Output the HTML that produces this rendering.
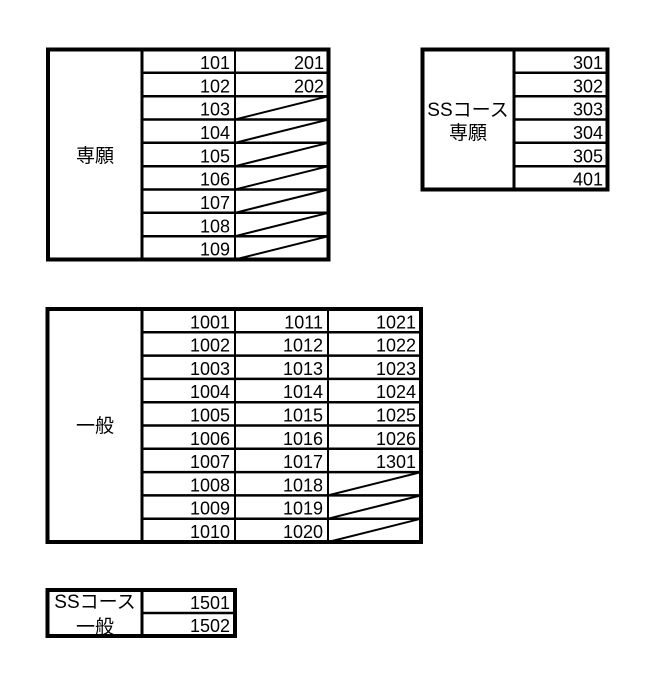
<!DOCTYPE html>
<html><head><meta charset="utf-8"><style>
html,body{margin:0;padding:0;background:#fff;}
svg text{font-family:"Liberation Sans","Noto Sans CJK JP",sans-serif;fill:#000;}
.n{font-size:18px;text-anchor:end;}
.h{font-size:19px;text-anchor:middle;}
</style></head><body>
<svg width="654" height="689" viewBox="0 0 654 689" xmlns="http://www.w3.org/2000/svg">
<g stroke="#000" fill="none">
<g stroke-width="2.5">
<line x1="142" y1="72.8" x2="328.5" y2="72.8"/>
<line x1="142" y1="96.2" x2="328.5" y2="96.2"/>
<line x1="142" y1="119.5" x2="328.5" y2="119.5"/>
<line x1="142" y1="142.8" x2="328.5" y2="142.8"/>
<line x1="142" y1="166.2" x2="328.5" y2="166.2"/>
<line x1="142" y1="189.5" x2="328.5" y2="189.5"/>
<line x1="142" y1="212.8" x2="328.5" y2="212.8"/>
<line x1="142" y1="236.2" x2="328.5" y2="236.2"/>
<line x1="142" y1="49.5" x2="142" y2="259.5" stroke-width="3"/>
<line x1="235" y1="49.5" x2="235" y2="259.5" stroke-width="2"/>
</g>
<g stroke-width="2">
<line x1="235" y1="119.5" x2="328.5" y2="96.2"/>
<line x1="235" y1="142.8" x2="328.5" y2="119.5"/>
<line x1="235" y1="166.2" x2="328.5" y2="142.8"/>
<line x1="235" y1="189.5" x2="328.5" y2="166.2"/>
<line x1="235" y1="212.8" x2="328.5" y2="189.5"/>
<line x1="235" y1="236.2" x2="328.5" y2="212.8"/>
<line x1="235" y1="259.5" x2="328.5" y2="236.2"/>
</g>
<rect x="48" y="49.5" width="280.5" height="210" stroke-width="4"/>

<g stroke-width="2.5">
<line x1="514" y1="72.8" x2="607.5" y2="72.8"/>
<line x1="514" y1="96.2" x2="607.5" y2="96.2"/>
<line x1="514" y1="119.5" x2="607.5" y2="119.5"/>
<line x1="514" y1="142.8" x2="607.5" y2="142.8"/>
<line x1="514" y1="166.2" x2="607.5" y2="166.2"/>
<line x1="514" y1="49.5" x2="514" y2="189.5" stroke-width="3"/>
</g>
<rect x="422.5" y="49.5" width="185" height="140" stroke-width="4"/>

<g stroke-width="2.5">
<line x1="142" y1="332.3" x2="421" y2="332.3"/>
<line x1="142" y1="355.6" x2="421" y2="355.6"/>
<line x1="142" y1="378.9" x2="421" y2="378.9"/>
<line x1="142" y1="402.2" x2="421" y2="402.2"/>
<line x1="142" y1="425.5" x2="421" y2="425.5"/>
<line x1="142" y1="448.8" x2="421" y2="448.8"/>
<line x1="142" y1="472.1" x2="421" y2="472.1"/>
<line x1="142" y1="495.4" x2="421" y2="495.4"/>
<line x1="142" y1="518.7" x2="421" y2="518.7"/>
<line x1="142" y1="309" x2="142" y2="542" stroke-width="3"/>
<line x1="235" y1="309" x2="235" y2="542" stroke-width="2"/>
<line x1="328" y1="309" x2="328" y2="542" stroke-width="2"/>
</g>
<g stroke-width="2">
<line x1="328" y1="495.4" x2="421" y2="472.1"/>
<line x1="328" y1="518.7" x2="421" y2="495.4"/>
<line x1="328" y1="542" x2="421" y2="518.7"/>
</g>
<rect x="47.5" y="309" width="373.5" height="233" stroke-width="4"/>

<line x1="142" y1="613" x2="235" y2="613" stroke-width="2.5"/>
<line x1="142" y1="590" x2="142" y2="636" stroke-width="3"/>
<rect x="47.5" y="590" width="187.5" height="46" stroke-width="4"/>
</g>

<text class="h" x="95" y="162">専願</text>
<text class="n" x="230" y="69">101</text>
<text class="n" x="324" y="69">201</text>
<text class="n" x="230" y="92.3">102</text>
<text class="n" x="324" y="92.3">202</text>
<text class="n" x="230" y="115.6">103</text>
<text class="n" x="230" y="138.9">104</text>
<text class="n" x="230" y="162.3">105</text>
<text class="n" x="230" y="185.6">106</text>
<text class="n" x="230" y="208.9">107</text>
<text class="n" x="230" y="232.3">108</text>
<text class="n" x="230" y="255.6">109</text>

<text class="h" x="468" y="116">SSコース</text>
<text class="h" x="468" y="139">専願</text>
<text class="n" x="603" y="69">301</text>
<text class="n" x="603" y="92.3">302</text>
<text class="n" x="603" y="115.6">303</text>
<text class="n" x="603" y="138.9">304</text>
<text class="n" x="603" y="162.3">305</text>
<text class="n" x="603" y="185.6">401</text>

<text class="h" x="95" y="432">一般</text>
<g>
<text class="n" x="230" y="328.3">1001</text><text class="n" x="323" y="328.3">1011</text><text class="n" x="416" y="328.3">1021</text>
<text class="n" x="230" y="351.6">1002</text><text class="n" x="323" y="351.6">1012</text><text class="n" x="416" y="351.6">1022</text>
<text class="n" x="230" y="374.9">1003</text><text class="n" x="323" y="374.9">1013</text><text class="n" x="416" y="374.9">1023</text>
<text class="n" x="230" y="398.2">1004</text><text class="n" x="323" y="398.2">1014</text><text class="n" x="416" y="398.2">1024</text>
<text class="n" x="230" y="421.5">1005</text><text class="n" x="323" y="421.5">1015</text><text class="n" x="416" y="421.5">1025</text>
<text class="n" x="230" y="444.8">1006</text><text class="n" x="323" y="444.8">1016</text><text class="n" x="416" y="444.8">1026</text>
<text class="n" x="230" y="468.1">1007</text><text class="n" x="323" y="468.1">1017</text><text class="n" x="416" y="468.1">1301</text>
<text class="n" x="230" y="491.4">1008</text><text class="n" x="323" y="491.4">1018</text>
<text class="n" x="230" y="514.7">1009</text><text class="n" x="323" y="514.7">1019</text>
<text class="n" x="230" y="538">1010</text><text class="n" x="323" y="538">1020</text>
</g>

<text class="h" x="95" y="608">SSコース</text>
<text class="h" x="95" y="633">一般</text>
<text class="n" x="230" y="609">1501</text>
<text class="n" x="230" y="632">1502</text>
</svg>
</body></html>
